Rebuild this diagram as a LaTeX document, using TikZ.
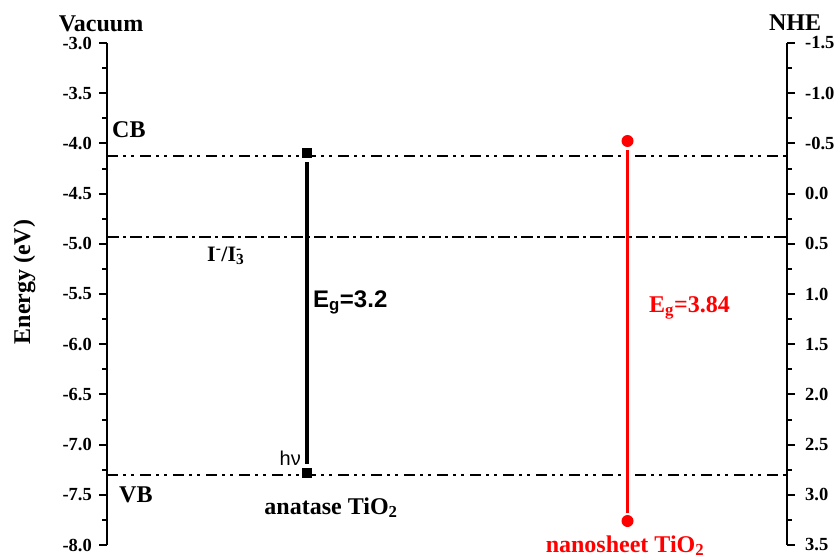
\documentclass[tikz,border=0pt]{standalone}
\usepackage{fontspec}
\setmainfont{Liberation Serif}
\newfontfamily\arialfam{Liberation Sans}
\begin{document}
\begin{tikzpicture}[x=1pt,y=-1pt,
  axisline/.style={line width=2.2pt,black},
  tickline/.style={line width=2pt,black},
  bandline/.style={line width=2.7pt,black,dash pattern=on 11pt off 5pt on 3pt off 5pt on 3pt off 6pt},
  redoxline/.style={line width=2.2pt,black,dash pattern=on 12pt off 4pt on 3pt off 4pt},
  ticklab/.style={font=\fontsize{18.5}{18.5}\selectfont\bfseries,inner sep=0pt},
  biglab/.style={font=\fontsize{24}{24}\selectfont\bfseries,inner sep=0pt},
  sqmark/.style={rectangle,fill=black,minimum size=10pt,inner sep=0pt},
  dotmark/.style={circle,fill=red,minimum size=12pt,inner sep=0pt},
  gapline/.style={line width=3.2pt},
]
\useasboundingbox (0,0) rectangle (838,559);
% axes
\coordinate (lt) at (107,43); \coordinate (lb) at (107,545);
\coordinate (rt) at (787,43); \coordinate (rb) at (787,545);
\draw[axisline] (lt) -- (lb);
\draw[axisline] (rt) -- (rb);
% ticks
\foreach \i in {0,...,20}{
  \pgfmathsetmacro{\yy}{43+\i*25.1}
  \pgfmathsetmacro{\len}{ifthenelse(mod(\i,2)==0,8,5)}
  \draw[tickline] (107,\yy) -- ++(-\len,0);
  \draw[tickline] (787,\yy) -- ++(\len,0);
}
\foreach \lab [count=\i from 0] in {-3.0,-3.5,-4.0,-4.5,-5.0,-5.5,-6.0,-6.5,-7.0,-7.5,-8.0}{
  \pgfmathsetmacro{\yy}{43+\i*50.2}
  \node[ticklab,anchor=east] (ll\i) at (92,\yy) {\lab};
}
\foreach \lab [count=\i from 0] in {-1.5,-1.0,-0.5,0.0,0.5,1.0,1.5,2.0,2.5,3.0,3.5}{
  \pgfmathsetmacro{\yy}{43+\i*50.2}
  \node[ticklab,anchor=west] (rl\i) at (805,\yy) {\lab};
}
% axis titles
\node[biglab,anchor=base] (vac) at (101,32) {Vacuum};
\node[biglab,anchor=base] (nhe) at (795,31) {NHE};
\node[biglab,anchor=base,rotate=90] (en) at (30,282) {Energy (eV)};
% level lines
\coordinate (cbl) at (107,156); \coordinate (cbr) at (787,156);
\coordinate (rdl) at (107,237); \coordinate (rdr) at (787,237);
\coordinate (vbl) at (107,475); \coordinate (vbr) at (787,475);
\draw[bandline] (cbl) -- (cbr);
\draw[redoxline] (rdl) -- (rdr);
\draw[bandline] (vbl) -- (vbr);
\node[biglab,anchor=base west] (cb) at (112,138) {CB};
\node[biglab,anchor=base west] (vb) at (119,502) {VB};
\node[font=\fontsize{22}{22}\selectfont\bfseries,inner sep=0pt,anchor=base west] (redox) at (207,261)
  {I\textsuperscript{-}/I\rlap{\textsuperscript{-}}\textsubscript{3}};
% anatase
\node[sqmark] (atop) at (307,153) {};
\node[sqmark] (abot) at (307,473) {};
\draw[gapline,black,shorten <=4pt,shorten >=4pt] (atop) -- (abot);
\node[font=\fontsize{24}{24}\selectfont\arialfam\bfseries,inner sep=0pt,anchor=base west] (eg1) at (313,307)
  {E\textsubscript{g}=3.2};
\node[font=\fontsize{20}{20}\selectfont\arialfam,inner sep=0pt,anchor=base east] (hv) at (301,465) {hν};
\node[biglab,anchor=base] (ana) at (331,514) {anatase TiO\textsubscript{2}};
% nanosheet
\node[dotmark] (ntop) at (627.5,141) {};
\node[dotmark] (nbot) at (627.5,521) {};
\draw[gapline,red,shorten <=3pt,shorten >=2pt] (ntop) -- (nbot);
\node[biglab,text=red,anchor=base west] (eg2) at (649,312) {E\textsubscript{g}=3.84};
\node[biglab,text=red,anchor=base] (nano) at (625,552) {nanosheet TiO\textsubscript{2}};
\end{tikzpicture}
\end{document}
